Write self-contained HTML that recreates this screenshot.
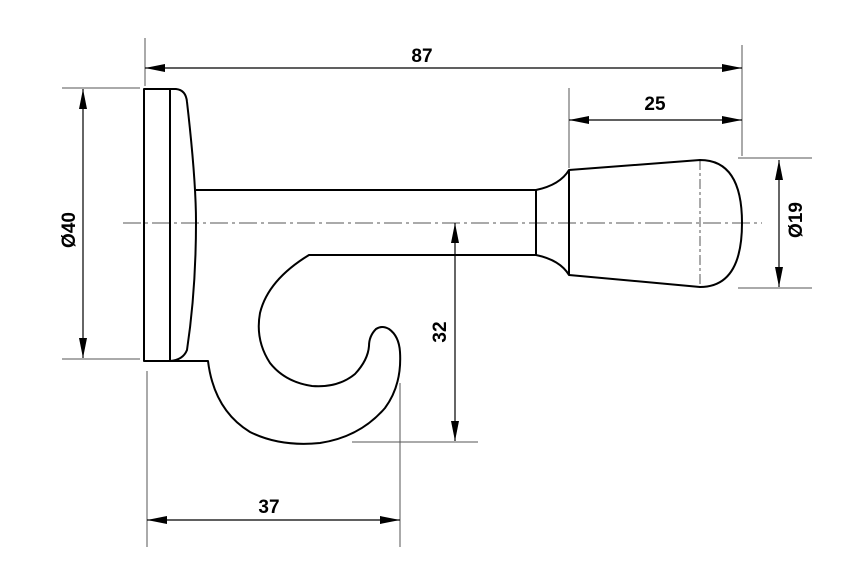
<!DOCTYPE html>
<html><head><style>body{margin:0;background:#fff}svg{display:block}text{font-family:"Liberation Sans",Arial,sans-serif;font-weight:bold;font-size:19px;fill:#000}</style></head><body>
<svg width="841" height="585" viewBox="0 0 841 585" xmlns="http://www.w3.org/2000/svg">
<defs>
<marker id="a" viewBox="0 0 20 8" refX="20" refY="4" markerWidth="20" markerHeight="8" markerUnits="userSpaceOnUse" orient="auto-start-reverse"><path d="M0,0 L20,4 L0,8 z" fill="#000"/></marker>
</defs>
<g stroke="#555" stroke-width="1" fill="none">
<line x1="123" y1="223" x2="762" y2="223" stroke-dasharray="18,4,3,4"/>
<line x1="700" y1="160" x2="700" y2="288" stroke-dasharray="10,3,3,3"/>
<!-- extension lines -->
<line x1="145" y1="38" x2="145" y2="86"/>
<line x1="742" y1="45" x2="742" y2="156"/>
<line x1="569" y1="88" x2="569" y2="168"/>
<line x1="738" y1="158" x2="812" y2="158"/>
<line x1="738" y1="288" x2="812" y2="288"/>
<line x1="62" y1="88" x2="140" y2="88"/>
<line x1="62" y1="359" x2="140" y2="359"/>
<line x1="352" y1="442" x2="478" y2="442"/>
<line x1="147" y1="371" x2="147" y2="547"/>
<line x1="400" y1="383" x2="400" y2="547"/>
</g>
<g stroke="#000" stroke-width="1.2" fill="none">
<line x1="145" y1="68" x2="742" y2="68" marker-start="url(#a)" marker-end="url(#a)"/>
<line x1="569" y1="120" x2="742" y2="120" marker-start="url(#a)" marker-end="url(#a)"/>
<line x1="779" y1="160" x2="779" y2="287" marker-start="url(#a)" marker-end="url(#a)"/>
<line x1="83" y1="89" x2="83" y2="358" marker-start="url(#a)" marker-end="url(#a)"/>
<line x1="455" y1="223" x2="455" y2="441" marker-start="url(#a)" marker-end="url(#a)"/>
<line x1="147" y1="520" x2="400" y2="520" marker-start="url(#a)" marker-end="url(#a)"/>
</g>
<g stroke="#000" stroke-width="2" fill="none" stroke-linejoin="round">
<rect x="144" y="89" width="26" height="272"/>
<path d="M170,89 L176,89 Q186,90 187,102 Q196,180 196,222 Q196,290 187,350 Q183,360 170,361"/>
<line x1="196" y1="190" x2="536" y2="190"/>
<path d="M170,361 L208,361 Q214,410 250,432 Q280,447 320,443 Q360,437 385,408 Q402,385 400,352 Q399,336 389,329 Q382,325 376,329 Q369,336 369,346 Q368,360 355,374 Q338,388 312,386 Q285,382 270,363 Q255,340 260,313 Q268,280 309,255 L536,255"/>
<line x1="536" y1="190" x2="536" y2="255"/>
<path d="M536,190 Q560,185 569,170 L700,160 Q742,160 742,223 Q742,287 700,287 L569,275 Q560,260 536,255"/>
<line x1="569" y1="170" x2="569" y2="275"/>
</g>
<text x="422" y="62" text-anchor="middle">87</text>
<text x="655" y="110" text-anchor="middle">25</text>
<text x="269" y="513" text-anchor="middle">37</text>
<text transform="translate(75,230) rotate(-90)" text-anchor="middle">Ø40</text>
<text transform="translate(446,332) rotate(-90)" text-anchor="middle">32</text>
<text transform="translate(802,220) rotate(-90)" text-anchor="middle">Ø19</text>
</svg>
</body></html>
